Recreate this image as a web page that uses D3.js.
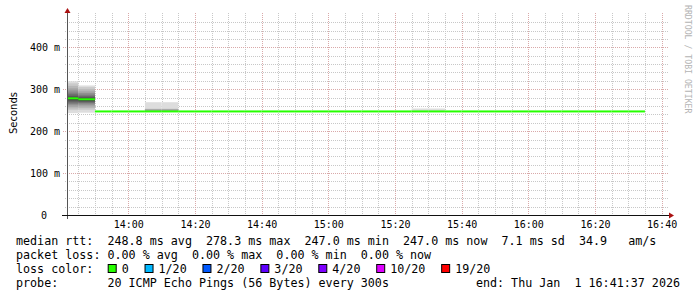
<!DOCTYPE html>
<html lang="en">
<head>
<meta charset="utf-8">
<title>SmokePing median rtt</title>
<script src="https://cdn.jsdelivr.net/npm/d3@7/dist/d3.min.js"></script>
<style>
  body { margin: 0; background: #fff; }
  svg text { font-family: "DejaVu Sans Mono", monospace; fill: #000; white-space: pre; }
  .grid-minor { stroke: #c8c8c8; stroke-dasharray: 1,1; shape-rendering: crispEdges; }
  .grid-major { stroke: #d9a9a9; stroke-dasharray: 1,1; shape-rendering: crispEdges; }
</style>
</head>
<body>
<svg width="697" height="297"></svg>
<script>
// 5 minute buckets, start time of each bucket
var bucketStart = ["13:40","13:45","13:50","13:55","14:00","14:05","14:10","14:15","14:20","14:25",
                   "14:30","14:35","14:40","14:45","14:50","14:55","15:00","15:05","15:10","15:15",
                   "15:20","15:25","15:30","15:35","15:40","15:45","15:50","15:55","16:00","16:05",
                   "16:10","16:15","16:20","16:25","16:30"];
// median rtt per bucket (ms)
var medianRtt = [278.3, 276.0, 247.0, 247.0, 247.0, 247.0, 247.0, 247.0, 247.0, 247.0,
                 247.0, 247.0, 247.0, 247.0, 247.0, 247.0, 247.0, 247.0, 247.0, 247.0,
                 247.0, 247.0, 247.0, 247.0, 247.0, 247.0, 247.0, 247.0, 247.0, 247.0,
                 247.0, 247.0, 247.0, 247.0, 247.0];
// buckets with spread in the 20 pings (sorted, ms)
var smokeTimes = ["13:40","13:45","14:05","14:10","15:25","15:30"];
var smokePings = [
  [243, 250, 254, 258, 262, 265, 268, 271, 274, 277, 279.6, 281, 284, 288, 292, 297, 302, 308, 314, 319],
  [244, 251, 255, 259, 263, 266, 268, 270, 272, 275, 277, 279, 281, 284, 287, 291, 295, 300, 305, 309],
  [247, 247, 247, 247, 247, 247, 247, 247, 247, 247, 247, 247, 247, 247, 247, 247, 252, 253, 253.5, 269],
  [247, 247, 247, 247, 247, 247, 247, 247, 247, 247, 247, 247, 247, 247, 247, 247, 252, 253, 253.5, 269],
  [247, 247, 247, 247, 247, 247, 247, 247, 247, 247, 247, 247, 247, 247, 247, 247, 247, 247, 247, 254],
  [247, 247, 247, 247, 247, 247, 247, 247, 247, 247, 247, 247, 247, 247, 247, 247, 247, 247, 247, 254]
];
var yTicks = [0, 100, 200, 300, 400];
var yTickLabels = ["0", "100 m", "200 m", "300 m", "400 m"];
var xTickLabels = ["14:00","14:20","14:40","15:00","15:20","15:40","16:00","16:20","16:40"];
var lossLabels = ["0", "1/20", "2/20", "3/20", "4/20", "10/20", "19/20"];
var lossColors = ["#26ff00", "#00b8ff", "#0059ff", "#5e00ff", "#7e00ff", "#dd00ff", "#ff0000"];
var legendLines = [
  "median rtt:  248.8 ms avg  278.3 ms max  247.0 ms min  247.0 ms now  7.1 ms sd  34.9   am/s",
  "packet loss: 0.00 % avg  0.00 % max  0.00 % min  0.00 % now",
  "loss color:",
  "probe:       20 ICMP Echo Pings (56 Bytes) every 300s"
];
var endLabel = "end: Thu Jan  1 16:41:37 2026";

var svg = d3.select("svg");
var parse = function(s) { return d3.utcParse("%Y-%m-%d %H:%M:%S")("2026-01-01 " + (s.length == 5 ? s + ":00" : s)); };
var step = 5 * 60 * 1000;

var pLeft = 67, pRight = 667, pTop = 15, pBottom = 215;
var x = d3.scaleUtc().domain([parse("13:41:37"), parse("16:41:37")]).range([pLeft, pRight]);
var y = d3.scaleLinear().domain([0, 477]).range([pBottom, pTop]);

var plot = svg.append("g");
plot.append("defs").append("clipPath").attr("id", "clip")
  .append("rect").attr("x", pLeft).attr("y", pTop).attr("width", pRight - pLeft).attr("height", pBottom - pTop);

// grid
var minorY = d3.range(20, 477, 20).filter(function(v) { return v % 100 != 0; });
var minorX = d3.utcMinute.every(5).range(x.domain()[0], x.domain()[1]).filter(function(d) { return d.getUTCMinutes() % 20 != 0; });
var majorX = d3.utcMinute.every(20).range(x.domain()[0], x.domain()[1]);

var grid = plot.append("g");
grid.selectAll(".gx").data(minorX).enter().append("line").attr("class", "grid-minor")
  .attr("x1", function(d) { return Math.round(x(d)) + 0.5; }).attr("x2", function(d) { return Math.round(x(d)) + 0.5; })
  .attr("y1", pTop - 2).attr("y2", pBottom);
grid.selectAll(".gy").data(minorY).enter().append("line").attr("class", "grid-minor")
  .attr("y1", function(d) { return Math.round(y(d)) + 0.5; }).attr("y2", function(d) { return Math.round(y(d)) + 0.5; })
  .attr("x1", pLeft - 2).attr("x2", pRight + 2);
grid.selectAll(".mx").data(majorX).enter().append("line").attr("class", "grid-major")
  .attr("x1", function(d) { return Math.round(x(d)) + 0.5; }).attr("x2", function(d) { return Math.round(x(d)) + 0.5; })
  .attr("y1", pTop - 2).attr("y2", pBottom + 2);
grid.selectAll(".my").data(yTicks.slice(1)).enter().append("line").attr("class", "grid-major")
  .attr("y1", function(d) { return Math.round(y(d)) + 0.5; }).attr("y2", function(d) { return Math.round(y(d)) + 0.5; })
  .attr("x1", pLeft - 4).attr("x2", pRight + 2);

// smoke
var smoke = plot.append("g").attr("clip-path", "url(#clip)");
smokeTimes.forEach(function(t, k) {
  var p = smokePings[k], t0 = parse(t), half = p.length / 2;
  for (var i = 0; i < half; i++) {
    var c = Math.floor(190 / half * (half - (i + 1))) + 50;
    var y0 = y(p[p.length - 1 - i]), y1 = y(p[i]);
    if (y1 - y0 <= 0) continue;
    smoke.append("rect")
      .attr("x", x(t0)).attr("width", x(new Date(+t0 + step)) - x(t0))
      .attr("y", y0).attr("height", y1 - y0)
      .attr("fill", d3.rgb(c, c, c));
  }
});

// median
plot.append("g").attr("clip-path", "url(#clip)")
  .selectAll("line").data(bucketStart).enter().append("line")
  .attr("x1", function(d) { return x(parse(d)); })
  .attr("x2", function(d) { return x(new Date(+parse(d) + step)); })
  .attr("y1", function(d, i) { return y(medianRtt[i]); })
  .attr("y2", function(d, i) { return y(medianRtt[i]); })
  .attr("stroke", lossColors[0]).attr("stroke-width", 2);

// axes
plot.append("line").attr("x1", pLeft + 0.5).attr("x2", pLeft + 0.5).attr("y1", pBottom + 4).attr("y2", pTop - 3)
  .attr("stroke", "#555");
plot.append("line").attr("x1", pLeft - 5).attr("x2", pRight + 3).attr("y1", pBottom + 0.5).attr("y2", pBottom + 0.5)
  .attr("stroke", "#111");
plot.append("path").attr("d", "M" + (pLeft + 0.5) + "," + (pTop - 7) + "l3,5h-6z").attr("fill", "#a11");
plot.append("path").attr("d", "M" + (pRight + 7) + "," + (pBottom + 0.5) + "l-5,-3v6z").attr("fill", "#a11");

// tick labels
var yAxis = d3.axisLeft(y).tickValues(yTicks).tickSize(0).tickPadding(0)
  .tickFormat(function(d, i) { return yTickLabels[i]; });
var ya = svg.append("g").attr("transform", "translate(60,0)").call(yAxis);
ya.select(".domain").remove();
ya.selectAll("text").attr("font-size", 10).attr("font-family", "DejaVu Sans Mono").style("fill", "#000")
  .attr("dx", function(d) { return d == 0 ? -13 : 0; });

var xTicks = xTickLabels.map(parse);
var xAxis = d3.axisBottom(x).tickValues(xTicks).tickSize(0).tickPadding(0)
  .tickFormat(function(d, i) { return xTickLabels[i]; });
var xa = svg.append("g").attr("transform", "translate(0,221)").call(xAxis);
xa.select(".domain").remove();
xa.selectAll("text").attr("font-size", 10).attr("font-family", "DejaVu Sans Mono").style("fill", "#000");

// y title
svg.append("text").attr("transform", "translate(16.5,113) rotate(-90)")
  .attr("text-anchor", "middle").style("font-family", "DejaVu Sans").attr("font-size", 10).text("Seconds");

// watermark
svg.append("text").attr("transform", "translate(685,5) rotate(90)")
  .attr("font-size", 8.2).style("fill", "#b4b4b4").text("RRDTOOL / TOBI OETIKER");

// legend
var cw = 7.03, fs = 11.7;
var lineY = [245, 259, 273, 287];
svg.selectAll(".leg").data(legendLines).enter().append("text")
  .attr("x", 16).attr("y", function(d, i) { return lineY[i]; })
  .attr("font-size", fs).text(function(d) { return d; });
svg.append("text").attr("x", 680).attr("y", lineY[3]).attr("text-anchor", "end")
  .attr("font-size", fs).text(endLabel);

var bx = 107.7;
lossLabels.forEach(function(l, i) {
  svg.append("rect").attr("x", bx + 0.5).attr("y", lineY[2] - 8.5).attr("width", 8).attr("height", 8)
    .attr("fill", lossColors[i]).attr("stroke", "#000");
  svg.append("text").attr("x", bx + 14).attr("y", lineY[2]).attr("font-size", fs).text(l);
  bx += 29.8 + l.length * cw;
});
</script>
</body>
</html>
